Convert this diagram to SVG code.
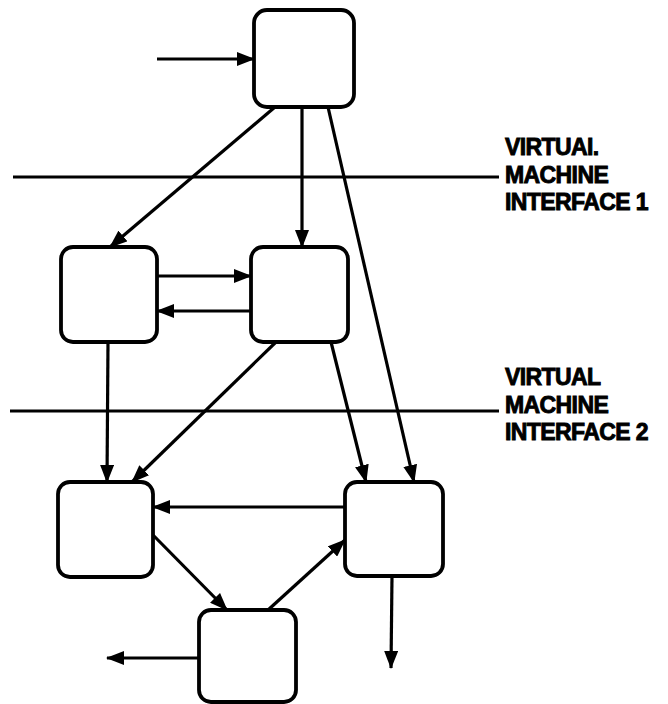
<svg xmlns="http://www.w3.org/2000/svg" width="668" height="704" viewBox="0 0 668 704">
  <style>
    .box { fill: #fff; stroke: #000; stroke-width: 3.8; }
    .edge { fill: none; stroke: #000; stroke-width: 3.2; }
    .level { fill: none; stroke: #000; stroke-width: 3.2; }
    .label { font-family: "Liberation Sans", Arial, sans-serif; font-weight: bold; font-size: 23px; letter-spacing: -0.6px; fill: #000; stroke: #000; stroke-width: 0.9; }
  </style>
  <defs>
    <marker id="head" markerUnits="userSpaceOnUse" markerWidth="18" markerHeight="14" refX="17" refY="7" orient="auto">
      <path d="M0,0 L18,7 L0,14 z" fill="#000"/>
    </marker>
  </defs>
  <rect width="668" height="704" fill="#fff"/>

  <!-- interface levels -->
  <g id="levels">
    <line class="level" x1="13" y1="177" x2="499" y2="177"/>
    <line class="level" x1="10" y1="411" x2="499" y2="411"/>
    <text class="label" x="505" y="155">VIRTUAI.</text>
    <text class="label" x="505" y="183">MACHINE</text>
    <text class="label" x="505" y="210">INTERFACE 1</text>
    <text class="label" x="505" y="385">VIRTUAL</text>
    <text class="label" x="505" y="413">MACHINE</text>
    <text class="label" x="505" y="440">INTERFACE 2</text>
  </g>

  <!-- connectors -->
  <g id="connectors">
    <line class="edge" x1="157" y1="59" x2="254" y2="59" marker-end="url(#head)"/>
    <line class="edge" x1="275" y1="107" x2="110" y2="247" marker-end="url(#head)"/>
    <line class="edge" x1="302" y1="107" x2="302" y2="247" marker-end="url(#head)"/>
    <line class="edge" x1="328" y1="107" x2="414" y2="482" marker-end="url(#head)"/>
    <line class="edge" x1="157" y1="276" x2="251" y2="276" marker-end="url(#head)"/>
    <line class="edge" x1="251" y1="311" x2="157" y2="311" marker-end="url(#head)"/>
    <line class="edge" x1="108" y1="342" x2="107" y2="482" marker-end="url(#head)"/>
    <line class="edge" x1="276" y1="342" x2="132" y2="482" marker-end="url(#head)"/>
    <line class="edge" x1="331" y1="342" x2="366" y2="482" marker-end="url(#head)"/>
    <line class="edge" x1="345" y1="507" x2="153" y2="507" marker-end="url(#head)"/>
    <line class="edge" x1="153" y1="535" x2="227" y2="610" marker-end="url(#head)"/>
    <line class="edge" x1="268" y1="610" x2="345" y2="540" marker-end="url(#head)"/>
    <line class="edge" x1="199" y1="658" x2="107" y2="658" marker-end="url(#head)"/>
    <line class="edge" x1="392" y1="576" x2="391" y2="668" marker-end="url(#head)"/>
  </g>

  <!-- nodes -->
  <g id="node-top"><rect class="box" x="254" y="10" width="100" height="97" rx="13"/></g>
  <g id="node-mid-left"><rect class="box" x="61" y="247" width="96" height="95" rx="12"/></g>
  <g id="node-mid-right"><rect class="box" x="251" y="247" width="97" height="95" rx="12"/></g>
  <g id="node-low-left"><rect class="box" x="58" y="482" width="95" height="95" rx="12"/></g>
  <g id="node-low-right"><rect class="box" x="345" y="482" width="98" height="94" rx="12"/></g>
  <g id="node-bottom"><rect class="box" x="199" y="610" width="97" height="92" rx="12"/></g>
</svg>
